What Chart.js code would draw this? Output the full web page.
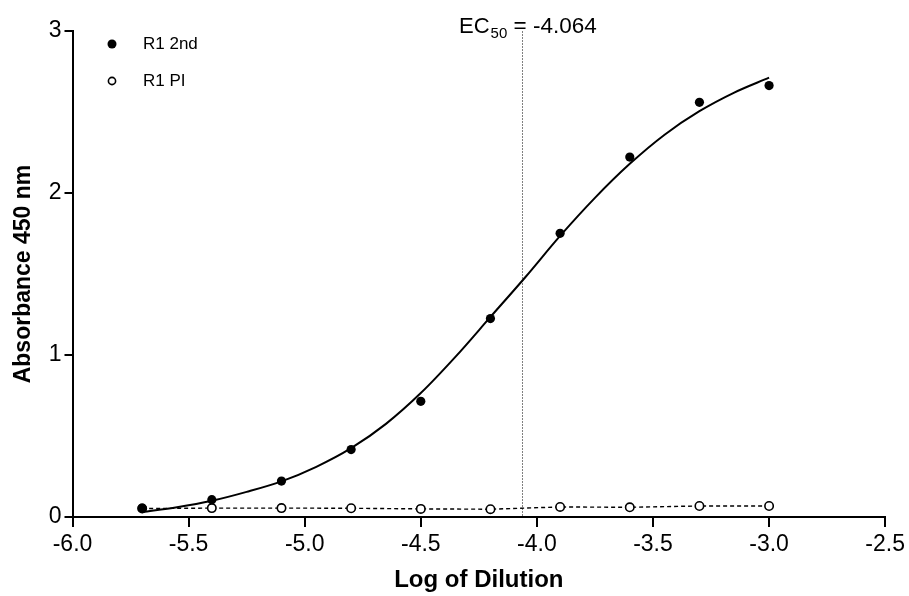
<!DOCTYPE html>
<html>
<head>
<meta charset="utf-8">
<script src="https://cdn.jsdelivr.net/npm/chart.js@4/dist/chart.umd.min.js"></script>
<style>
  html, body { margin: 0; padding: 0; background: #fff; }
  #wrap { width: 909px; height: 596px; position: relative; }
</style>
</head>
<body>
<div id="wrap"><canvas id="c"></canvas></div>
<script>
// ---- data ----
const logDilution = [-5.7, -5.4, -5.1, -4.8, -4.5, -4.2, -3.9, -3.6, -3.3, -3.0];
const r1Second    = [0.055, 0.107, 0.222, 0.416, 0.714, 1.225, 1.751, 2.222, 2.56, 2.663];
const r1PI        = [0.052, 0.055, 0.055, 0.054, 0.050, 0.048, 0.062, 0.060, 0.068, 0.068];
// fitted curve for R1 2nd
const fitX = [-5.7, -5.55, -5.4, -5.25, -5.1, -4.95, -4.8, -4.65, -4.5, -4.35, -4.2, -4.05, -3.9, -3.75, -3.6, -3.45, -3.3, -3.15, -3.0];
const fitY = [0.03, 0.06, 0.10, 0.155, 0.22, 0.31, 0.425, 0.575, 0.765, 0.99, 1.235, 1.48, 1.735, 1.97, 2.18, 2.36, 2.505, 2.62, 2.712];
const ec50 = -4.064;
const seriesNames = ['R1 2nd', 'R1 PI'];
const xTitle = 'Log of Dilution';
const yTitle = 'Absorbance 450 nm';

const FONT = '"Liberation Sans", Arial, Helvetica, sans-serif';

const toXY = (xs, ys) => xs.map((x, i) => ({ x: x, y: ys[i] }));

const extras = {
  id: 'extras',
  beforeDatasetsDraw(chart) {
    const { ctx, chartArea, scales } = chart;
    const x = Math.round(scales.x.getPixelForValue(ec50)) + 0.5;
    ctx.save();
    ctx.strokeStyle = '#808080';
    ctx.lineWidth = 1;
    ctx.setLineDash([2, 1]);
    ctx.beginPath();
    ctx.moveTo(x, chartArea.top);
    ctx.lineTo(x, chartArea.bottom);
    ctx.stroke();
    ctx.restore();
  },
  afterDraw(chart) {
    const { ctx, scales } = chart;
    const x = scales.x.getPixelForValue(ec50);
    ctx.save();
    ctx.fillStyle = '#000';
    ctx.textBaseline = 'alphabetic';
    ctx.textAlign = 'left';
    // EC50 label
    let cx = x - 63;
    const by = 33;
    ctx.font = '22px ' + FONT;
    ctx.fillText('EC', cx, by);
    cx += ctx.measureText('EC').width + 1;
    ctx.font = '15px ' + FONT;
    ctx.fillText('50', cx, by + 5);
    cx += ctx.measureText('50').width;
    ctx.font = '22.5px ' + FONT;
    ctx.fillText(' = ' + ec50.toFixed(3), cx, by);

    // legend
    ctx.textBaseline = 'middle';
    ctx.font = '17px ' + FONT;
    ctx.fillText(seriesNames[0], 143, 44);
    ctx.fillText(seriesNames[1], 143, 81);
    ctx.beginPath();
    ctx.arc(112, 44, 4.5, 0, Math.PI * 2);
    ctx.fill();
    ctx.beginPath();
    ctx.arc(112, 81, 3.6, 0, Math.PI * 2);
    ctx.fillStyle = '#fff';
    ctx.fill();
    ctx.lineWidth = 1.6;
    ctx.strokeStyle = '#000';
    ctx.stroke();
    ctx.restore();
  }
};

new Chart(document.getElementById('c'), {
  type: 'scatter',
  data: {
    datasets: [
      {
        label: seriesNames[0],
        data: toXY(logDilution, r1Second),
        showLine: false,
        pointRadius: 4.6,
        pointBackgroundColor: '#000',
        pointBorderColor: '#000',
        pointBorderWidth: 0,
        order: 1
      },
      {
        label: 'fit',
        data: toXY(fitX, fitY),
        showLine: true,
        borderColor: '#000',
        borderWidth: 2,
        cubicInterpolationMode: 'monotone',
        pointRadius: 0,
        order: 2
      },
      {
        label: seriesNames[1],
        data: toXY(logDilution, r1PI),
        showLine: true,
        borderColor: '#000',
        borderWidth: 1.4,
        borderDash: [4, 3],
        pointRadius: 4.2,
        pointBackgroundColor: '#fff',
        pointBorderColor: '#000',
        pointBorderWidth: 1.6,
        order: 3
      }
    ]
  },
  options: {
    responsive: true,
    maintainAspectRatio: false,
    animation: false,
    layout: { padding: { left: 0, right: 22, top: 31, bottom: 0 } },
    plugins: { legend: { display: false }, tooltip: { enabled: false } },
    scales: {
      x: {
        type: 'linear',
        min: -6, max: -2.5,
        afterFit(s) { s.height = 79; },
        border: { display: true, color: '#000', width: 2 },
        grid: { drawOnChartArea: false, drawTicks: true, tickLength: 10, color: '#000', lineWidth: 2 },
        ticks: {
          stepSize: 0.5,
          color: '#000',
          padding: 4,
          maxRotation: 0,
          font: { family: FONT, size: 23 },
          callback: v => Number(v).toFixed(1)
        },
        title: {
          display: true, text: xTitle, color: '#000',
          font: { family: FONT, size: 24, weight: 'bold' },
          padding: { top: 0, bottom: 1 }
        }
      },
      y: {
        type: 'linear',
        min: 0, max: 3,
        afterFit(s) { s.width = 72.5; },
        border: { display: true, color: '#000', width: 2 },
        grid: { drawOnChartArea: false, drawTicks: true, tickLength: 8, color: '#000', lineWidth: 2 },
        ticks: {
          stepSize: 1,
          color: '#000',
          padding: 3,
          font: { family: FONT, size: 23 }
        },
        title: {
          display: true, text: yTitle, color: '#000',
          font: { family: FONT, size: 23, weight: 'bold' },
          padding: { top: 10, bottom: 0 }
        }
      }
    }
  },
  plugins: [extras]
});
</script>
</body>
</html>
